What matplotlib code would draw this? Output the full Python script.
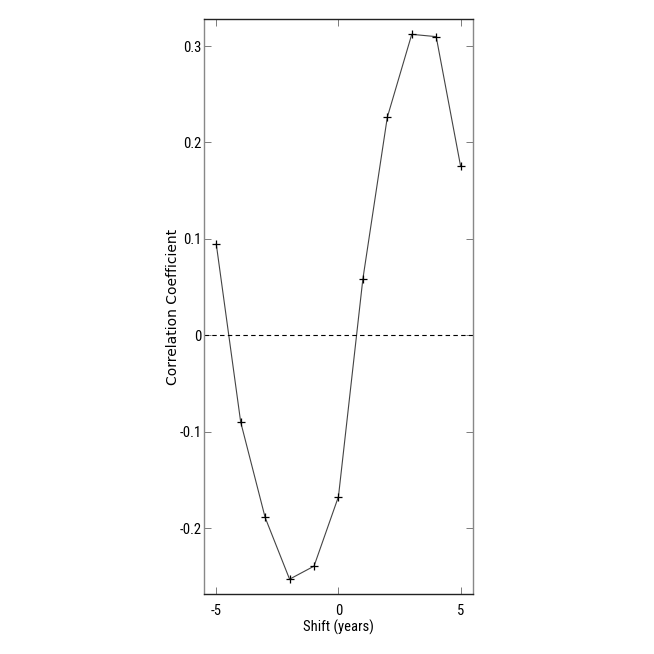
import matplotlib
matplotlib.use("Agg")
import matplotlib.pyplot as plt
from matplotlib import font_manager

shift = [-5, -4, -3, -2, -1, 0, 1, 2, 3, 4, 5]
corr = [0.0946, -0.0901, -0.189, -0.253, -0.2395, -0.1674, 0.0585, 0.2262, 0.3122, 0.3098, 0.1753]
xticks = [-5, 0, 5]
yticks = [-0.2, -0.1, 0, 0.1, 0.2, 0.3]
ytick_labels = ["-0.2", "-0.1", "0", "0.1", "0.2", "0.3"]

fonts = font_manager.fontManager.ttflist
narrow = None
for cand in ["Liberation Sans Narrow", "Roboto Condensed", "Open Sans Condensed"]:
    if any(f.name == cand for f in fonts):
        narrow = dict(fontfamily=cand)
        break
if narrow is None:
    if any(f.name == "DejaVu Sans" and f.stretch == "condensed" for f in fonts):
        narrow = dict(fontfamily="DejaVu Sans", fontstretch="condensed")
    else:
        narrow = dict(fontfamily="Liberation Sans")

fig = plt.figure(figsize=(6.54, 6.54), dpi=100)
ax = fig.add_axes([0.312, 0.0917, 0.411, 0.8788])
ax.plot(shift, corr, color="#444444", lw=0.8, marker="+", ms=6, mec="black", mew=0.9)
ax.axhline(0, color="black", lw=0.8, ls=(0, (4, 3)))
ax.set_xlim(-5.5, 5.5)
ax.set_ylim(-0.2684, 0.3278)
ax.set_xticks(xticks)
ax.set_xticklabels([str(t) for t in xticks], fontsize=10.5, **narrow)
ax.set_yticks(yticks)
ax.set_yticklabels(ytick_labels, fontsize=10.5, **narrow)
ax.tick_params(direction="in", top=True, right=True, length=5, width=0.6, pad=2,
               colors="#666666", labelcolor="black")
ax.tick_params(axis="x", pad=7)
for s in ax.spines.values():
    s.set_linewidth(1.0)
    s.set_color("#222222")
ax.spines["left"].set_color("#888888")
ax.spines["right"].set_color("#888888")
ax.set_xlabel("Shift (years)", fontsize=10.5, **narrow)
ax.xaxis.set_label_coords(0.5, -0.044)
ax.set_ylabel("Correlation Coefficient", fontfamily="DejaVu Sans", fontsize=10)
ax.yaxis.set_label_coords(-0.09, 0.5)
fig.savefig("out.png", dpi=100)
